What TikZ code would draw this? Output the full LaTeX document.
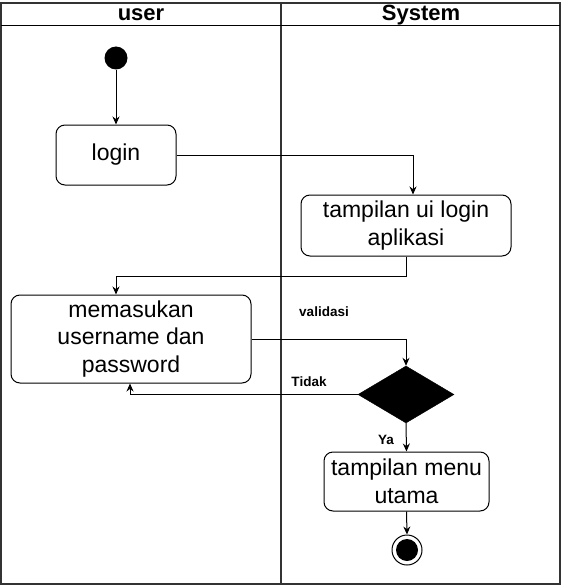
\documentclass[tikz,border=0pt]{standalone}
\usepackage{fontspec}
\setmainfont{Liberation Sans}
\usetikzlibrary{shapes.geometric,arrows.meta,calc}
\begin{document}
\begin{tikzpicture}[x=1pt,y=-1pt,
  act/.style={draw=black,line width=1pt,rounded corners=9pt,fill=white,inner sep=0pt,align=center,
    font=\fontsize{23}{27.5}\selectfont},
  lane/.style={draw=black!80,line width=1.6pt},
  flow/.style={draw=black,line width=1pt,-{Stealth[length=8pt,width=7pt]}},
  lbl/.style={font=\bfseries\fontsize{13.5}{16}\selectfont,inner sep=0pt},
  head/.style={font=\bfseries\fontsize{22}{26}\selectfont,inner sep=0pt}]
\useasboundingbox (0,0) rectangle (561,586);
\fill[white] (0,0) rectangle (561,586);
% swimlanes
\draw[lane] (1,3) rectangle (560,584);
\draw[lane] (281,3) -- (281,584);
\draw[draw=black,line width=1pt] (1,26) -- (560,26);
\node[head] (huser) at (141,15) {user};
\node[head] (hsys) at (421,15) {System};
% nodes
\node[circle,fill=black,minimum size=23pt,inner sep=0pt] (start) at (116,58) {};
\node[act,minimum width=120pt,minimum height=60pt] (login) at (116,155) {login};
\node[act,minimum width=210pt,minimum height=61pt] (ui) at (406,225.5) {tampilan ui login\\aplikasi};
\node[act,minimum width=240pt,minimum height=88pt] (input) at (131,339) {memasukan\\username dan\\password};
\node[diamond,fill=black,draw=black,minimum width=96pt,minimum height=57pt,inner sep=0pt] (dec) at (406,394.5) {};
\node[act,minimum width=165pt,minimum height=59pt] (menu) at (406.5,481.5) {tampilan menu\\utama};
\node[circle,draw=black,line width=1pt,fill=white,minimum size=30pt,inner sep=0pt] (end) at (407,550) {};
\node[circle,fill=black,minimum size=22pt,inner sep=0pt] (endin) at (end.center) {};
% connectors
\draw[flow] (start) -- (login);
\draw[flow] (login.east) -| ([xshift=7pt]ui.north);
\draw[flow] (ui.south) -- ++(0,19.5) -| ([xshift=-15pt]input.north);
\draw[flow] (input.east) -| (dec.north);
\draw[flow] (dec.west) -| ([xshift=-1pt]input.south);
\draw[flow] (dec.south) -- (menu.north);
\draw[flow] (menu.south) -- (end.north);
% labels
\node[lbl] (lval) at (324,312) {validasi};
\node[lbl] (ltid) at (309,382) {Tidak};
\node[lbl] (lya) at (386,440) {Ya};
\end{tikzpicture}
\end{document}
